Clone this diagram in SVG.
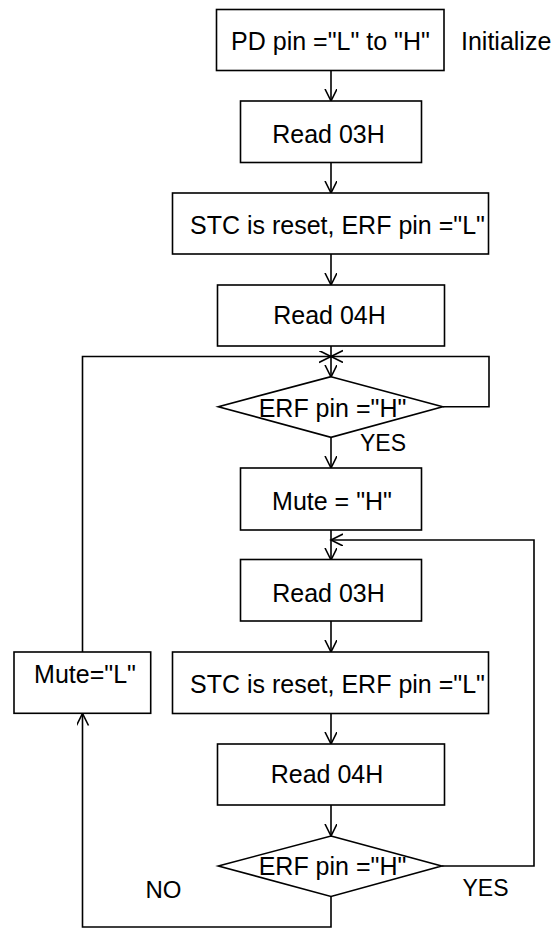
<svg xmlns="http://www.w3.org/2000/svg" width="555" height="929" viewBox="0 0 555 929">
<style>
.box{fill:#fff;stroke:#000;stroke-width:1.6}
.ln{fill:none;stroke:#000;stroke-width:1.6}
.t{font-family:"Liberation Sans",Arial,sans-serif;font-size:25px;fill:#000;text-anchor:middle}
.lbl{font-family:"Liberation Sans",Arial,sans-serif;font-size:23px;fill:#000}
</style>
<defs>
<marker id="ah" markerUnits="userSpaceOnUse" markerWidth="14" markerHeight="14" refX="12" refY="6" orient="auto">
<path d="M0,0 L12,6 L0,12" fill="none" stroke="#000" stroke-width="1.6"/>
</marker>
</defs>
<rect width="555" height="929" fill="#fff"/>
<g id="connectors">
<line class="ln" x1="331" y1="70.5" x2="331" y2="101" marker-end="url(#ah)"/>
<line class="ln" x1="331" y1="162.5" x2="331" y2="193" marker-end="url(#ah)"/>
<line class="ln" x1="331" y1="254" x2="331" y2="285" marker-end="url(#ah)"/>
<line class="ln" x1="331" y1="346" x2="331" y2="377" marker-end="url(#ah)"/>
<polyline class="ln" points="82.5,652 82.5,356.5 331,356.5" marker-end="url(#ah)"/>
<polyline class="ln" points="442.7,406.7 489,406.7 489,356.5 331,356.5" marker-end="url(#ah)"/>
<line class="ln" x1="331" y1="437.3" x2="331" y2="468" marker-end="url(#ah)"/>
<line class="ln" x1="331" y1="530" x2="331" y2="560" marker-end="url(#ah)"/>
<polyline class="ln" points="441.7,866 534,866 534,540 331,540" marker-end="url(#ah)"/>
<line class="ln" x1="331" y1="621" x2="331" y2="652" marker-end="url(#ah)"/>
<line class="ln" x1="331" y1="713.5" x2="331" y2="744" marker-end="url(#ah)"/>
<line class="ln" x1="331" y1="805" x2="331" y2="836" marker-end="url(#ah)"/>
<polyline class="ln" points="331,896.5 331,927 82.5,927 82.5,713.5" marker-end="url(#ah)"/>
</g>
<g id="n1"><rect class="box" x="216.5" y="9.5" width="227.5" height="61"/><text class="t" x="330.5" y="49.5">PD pin ="L" to "H"</text></g>
<g id="init"><text class="lbl" x="461" y="50" style="font-size:25px">Initialize</text></g>
<g id="n2"><rect class="box" x="240.5" y="101" width="181" height="61.5"/><text class="t" x="328.5" y="142.7">Read 03H</text></g>
<g id="n3"><rect class="box" x="172.5" y="193" width="316" height="61"/><text class="t" x="337.5" y="234">STC is reset, ERF pin ="L"</text></g>
<g id="n4"><rect class="box" x="217.5" y="285" width="227" height="61"/><text class="t" x="329.5" y="324">Read 04H</text></g>
<g id="d1"><polygon class="box" points="331,376.7 442.7,406.7 331,437.3 218.3,406.7"/><text class="t" x="332.5" y="417.3">ERF pin ="H"</text></g>
<g id="yes1"><text class="lbl" x="360" y="450.7">YES</text></g>
<g id="n5"><rect class="box" x="240.5" y="468" width="181" height="62"/><text class="t" x="332" y="510">Mute = "H"</text></g>
<g id="n6"><rect class="box" x="240.5" y="559.5" width="181" height="61.5"/><text class="t" x="328.5" y="602.3">Read 03H</text></g>
<g id="n7"><rect class="box" x="172.5" y="652" width="316" height="61.5"/><text class="t" x="337.5" y="693.3">STC is reset, ERF pin ="L"</text></g>
<g id="n8"><rect class="box" x="14" y="652" width="136.7" height="61.3"/><text class="t" x="85" y="683.3">Mute="L"</text></g>
<g id="n9"><rect class="box" x="217.5" y="744" width="227" height="61"/><text class="t" x="327" y="783.3">Read 04H</text></g>
<g id="d2"><polygon class="box" points="331,836 441.7,866 331,896.5 218.3,866"/><text class="t" x="332.5" y="874.5">ERF pin ="H"</text></g>
<g id="no"><text class="lbl" x="145.5" y="898" style="font-size:24px">NO</text></g>
<g id="yes2"><text class="lbl" x="462.5" y="896">YES</text></g>
</svg>
